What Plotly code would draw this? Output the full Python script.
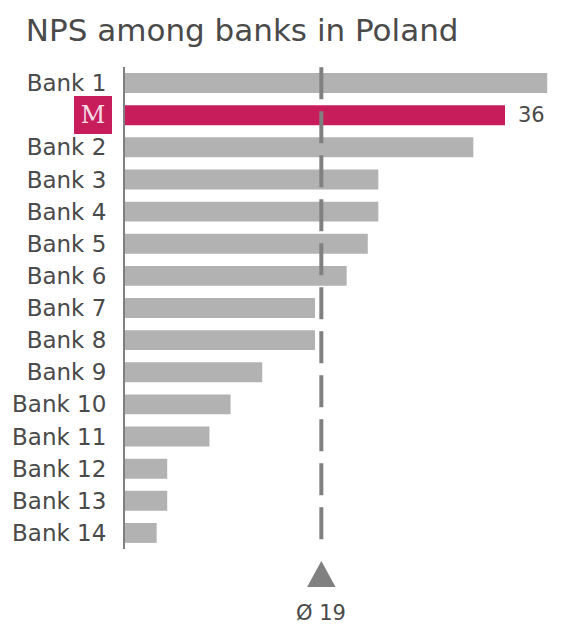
import plotly.graph_objects as go

categories = ["Bank 1", "M", "Bank 2", "Bank 3", "Bank 4", "Bank 5", "Bank 6", "Bank 7",
              "Bank 8", "Bank 9", "Bank 10", "Bank 11", "Bank 12", "Bank 13", "Bank 14"]
nps = [40, 36, 33, 24, 24, 23, 21, 18, 18, 13, 10, 8, 4, 4, 3]
highlight = "M"
avg_value = 18.6
avg_label = "Ø 19"

GRAY = "#b2b2b2"
CRIMSON = "#c81d5b"
TEXT = "#4a4a4a"
LINE = "#808080"
FONT = "DejaVu Sans"

colors = [CRIMSON if c == highlight else GRAY for c in categories]
ticktext = ["" if c == highlight else c for c in categories]

fig = go.Figure(go.Bar(
    x=nps, y=categories, orientation="h",
    marker=dict(color=colors, line=dict(width=0)),
    width=0.62, hoverinfo="skip",
))

# value label for highlighted bank
hi_val = nps[categories.index(highlight)]
fig.add_annotation(x=hi_val, y=highlight, xref="x", yref="y", text=str(hi_val),
                   showarrow=False, xanchor="left", yanchor="middle", xshift=11,
                   font=dict(size=21, color=TEXT, family=FONT))

# mean line
fig.add_shape(type="line", xref="x", yref="paper", x0=avg_value, x1=avg_value,
              y0=0.02, y1=1.0, line=dict(color=LINE, width=4, dash="32px,12px"))
# triangle under mean
tw = 1.35
fig.add_shape(type="path", xref="x", yref="paper",
              path=f"M {avg_value - tw} -0.079 L {avg_value + tw} -0.079 L {avg_value} -0.025 Z",
              fillcolor=LINE, line=dict(width=0))
fig.add_annotation(x=avg_value, y=-0.132, xref="x", yref="paper", text=avg_label,
                   showarrow=False, font=dict(size=21, color=TEXT, family=FONT),
                   xanchor="center", yanchor="middle")

# logo label for highlighted bank
fig.add_annotation(x=-0.03, y=highlight, xref="paper", yref="y", text="M",
                   showarrow=False, xanchor="right", yanchor="middle",
                   bgcolor=CRIMSON, font=dict(size=24, color="#f6dbe5", family="DejaVu Serif"),
                   borderpad=0, borderwidth=0, width=38, height=38, align="center", valign="middle")

fig.update_layout(
    width=562, height=634,
    margin=dict(l=125, r=0, t=67, b=85),
    paper_bgcolor="white", plot_bgcolor="white",
    showlegend=False,
    title=dict(text="NPS among banks in Poland", x=0.046, xanchor="left", y=0.953, yanchor="middle",
               font=dict(size=31, color=TEXT, family=FONT)),
    xaxis=dict(range=[0, 41.4], visible=False, fixedrange=True),
    yaxis=dict(autorange="reversed", tickmode="array", tickvals=categories, ticktext=ticktext,
               showline=True, linecolor=LINE, linewidth=2, ticks="", showgrid=False,
               ticklabelstandoff=12,
               tickfont=dict(size=23, color=TEXT, family=FONT)),
    bargap=0.38,
)

fig.write_html("out.html")
